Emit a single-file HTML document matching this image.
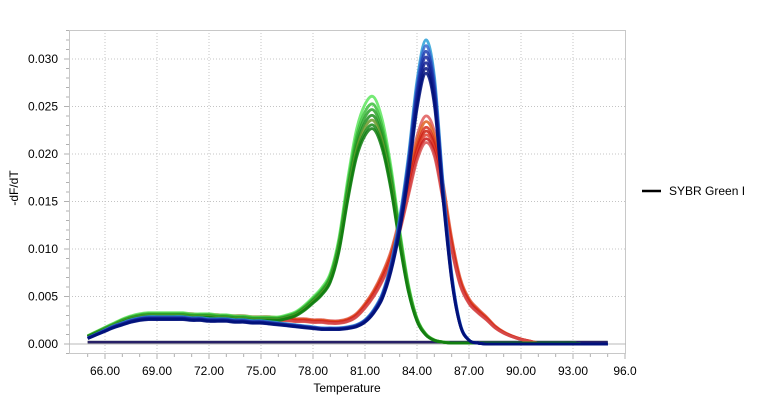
<!DOCTYPE html>
<html><head><meta charset="utf-8">
<style>
body{margin:0;background:#fff;}
svg{display:block;font-family:"Liberation Sans",sans-serif;}
</style></head>
<body>
<svg id="chart" width="760" height="419"></svg>
<script>
const temps=[65,65.5,66,66.5,67,67.5,68,68.5,69,69.5,70,70.5,71,71.5,72,72.5,73,73.5,74,74.5,75,75.5,76,76.5,77,77.5,78,78.5,79,79.5,80,80.5,81,81.5,82,82.5,83,83.5,84,84.5,85,85.5,86,86.5,87,87.5,88,88.5,89,89.5,90,90.5,91,91.5,92,92.5,93,93.5,94,94.5,95];
const greenValues=[0.0008,0.0012,0.0016,0.0020,0.0024,0.0027,0.0029,0.0030,0.0030,0.0030,0.0030,0.0030,0.0029,0.0029,0.0029,0.0028,0.0028,0.0027,0.0027,0.0026,0.0026,0.0026,0.0026,0.0028,0.0031,0.0037,0.0045,0.0054,0.0068,0.0102,0.0158,0.0205,0.0230,0.0237,0.0215,0.0170,0.0110,0.0058,0.0025,0.0010,0.0004,0.0002,0.0001,0.0001,0.0001,0.0001,0.0001,0.0001,0.0001,0.0001,0.0001,0.0001,0.0001,0.0001,0.0001,0.0001,0.0001,0.0000,0.0000,0.0000,0.0000];
const blueValues=[0.0006,0.0010,0.0014,0.0018,0.0021,0.0024,0.0026,0.0027,0.0027,0.0027,0.0027,0.0027,0.0026,0.0026,0.0025,0.0025,0.0025,0.0024,0.0024,0.0023,0.0023,0.0022,0.0021,0.0020,0.0019,0.0018,0.0017,0.0016,0.0016,0.0016,0.0017,0.0019,0.0024,0.0034,0.0050,0.0080,0.0125,0.0185,0.0260,0.0300,0.0265,0.0160,0.0070,0.0020,0.0004,0.0001,0.0000,0.0000,0.0000,0.0000,0.0000,0.0000,0.0000,0.0000,0.0000,0.0000,0.0000,0.0000,0.0000,0.0000,0.0000];
const redValues=[0.0008,0.0012,0.0016,0.0020,0.0024,0.0027,0.0029,0.0030,0.0030,0.0030,0.0030,0.0030,0.0030,0.0029,0.0029,0.0029,0.0028,0.0028,0.0028,0.0027,0.0027,0.0027,0.0026,0.0026,0.0025,0.0025,0.0024,0.0024,0.0023,0.0023,0.0025,0.0030,0.0040,0.0053,0.0070,0.0092,0.0125,0.0165,0.0205,0.0225,0.0210,0.0160,0.0105,0.0065,0.0045,0.0035,0.0027,0.0018,0.0012,0.0008,0.0005,0.0003,0.0001,0.0001,0.0000,0.0000,0.0000,0.0000,0.0000,0.0000,0.0000];
const greenPeaks=[0.0260,0.0252,0.0246,0.0240,0.0235,0.0230,0.0226];
const bluePeaks=[0.0320,0.0314,0.0308,0.0302,0.0296,0.0290,0.0285];
const redPeaks=[0.0240,0.0234,0.0228,0.0224,0.0220,0.0216,0.0212];
const xTicks=[66,69,72,75,78,81,84,87,90,93,96];
const xTickLabels=["66.00","69.00","72.00","75.00","78.00","81.00","84.00","87.00","90.00","93.00","96.0"];
const yTicks=[0,0.005,0.010,0.015,0.020,0.025,0.030];
const yTickLabels=["0.000","0.005","0.010","0.015","0.020","0.025","0.030"];

const greenColors=["#5ee65e","#3cbf3c","#2aa32a","#1e8f1e","#6a9a2a","#178a17","#0f7d0f"];
const blueColors=["#2aa0d8","#3a6ad0","#2040b0","#1a2aa0","#101e90","#0a1880","#00107a"];
const redColors=["#e05a5a","#e0621e","#d83020","#cc2010","#e04030","#c81818","#d85050"];

const L=69,T=30,R=626,B=354;
function sx(t){return 105+(t-66)*(52/3);}
function sy(v){return 344-v*(285/0.030);}
const NS="http://www.w3.org/2000/svg";
const svg=document.getElementById('chart');
function mk(tag,attrs,parent){const e=document.createElementNS(NS,tag);for(const k in attrs)e.setAttribute(k,attrs[k]);(parent||svg).appendChild(e);return e;}

const frame=mk('rect',{x:L+0.5,y:T+0.5,width:R-L-1,height:B-T-1,fill:'#fff',stroke:'#c8c8c8'});


xTicks.forEach((t,i)=>{
  if(t<96){const g=mk('line',{x1:sx(t),x2:sx(t),y1:T,y2:B,stroke:'#c4c4c4','stroke-dasharray':'1,2'});
  
  }
  const tx=mk('text',{x:sx(t),y:375,'font-size':'12','text-anchor':'middle',fill:'#000'});
  tx.textContent=xTickLabels[i];
  
  
});
for(let t=65;t<=96;t++){mk('line',{x1:sx(t),x2:sx(t),y1:B,y2:B+(t%3===0?5:3),stroke:'#b0b0b0'});}
yTicks.forEach((v,i)=>{
  if(v>0){const g=mk('line',{x1:L,x2:R,y1:sy(v),y2:sy(v),stroke:'#c4c4c4','stroke-dasharray':'1,2'});
  
  }
  const tx=mk('text',{x:58,y:sy(v)+4,'font-size':'12','text-anchor':'end',fill:'#000'});
  tx.textContent=yTickLabels[i];
  
  
});
for(let k=-1;k<=33;k++){const v=k*0.001;const y=sy(v);if(y<T||y>B)continue;mk('line',{x1:L-(k%5===0?5:3),x2:L,y1:y,y2:y,stroke:'#b0b0b0'});}
mk('line',{x1:L,x2:R,y1:sy(0),y2:sy(0),stroke:'#b8b8b8'});

function pathFor(vals){
  const pts=temps.map((t,i)=>[sx(t),sy(vals[i])]);
  let d='M'+pts[0][0].toFixed(1)+','+pts[0][1].toFixed(1);
  for(let i=0;i<pts.length-1;i++){
    const p0=pts[Math.max(0,i-1)],p1=pts[i],p2=pts[i+1],p3=pts[Math.min(pts.length-1,i+2)];
    const c1=[p1[0]+(p2[0]-p0[0])/6,p1[1]+(p2[1]-p0[1])/6],c2=[p2[0]-(p3[0]-p1[0])/6,p2[1]-(p3[1]-p1[1])/6];
    d+=`C${c1[0].toFixed(1)},${c1[1].toFixed(1)} ${c2[0].toFixed(1)},${c2[1].toFixed(1)} ${p2[0].toFixed(1)},${p2[1].toFixed(1)}`;
  }
  return d;
}
function scaled(base,peak){const m=Math.max(...base);return base.map(v=>v*peak/m);}
const gClip=mk('g',{});
const flat=temps.map(()=>0.0002);
['#2a9a2a','#5a1a5a','#1a1a6a'].forEach(c=>{
  const p=mk('path',{d:pathFor(flat),fill:'none',stroke:c,'stroke-width':2.5,opacity:0.8},gClip);
  
  
});
function group(base,peaks,colors,name){
  peaks.forEach((pk,i)=>{
    const p=mk('path',{d:pathFor(scaled(base,pk)),fill:'none',stroke:colors[i],'stroke-width':2.8,opacity:0.85},gClip);
    
    
  });
}
group(redValues,redPeaks,redColors,'red');
group(greenValues,greenPeaks,greenColors,'green');
group(blueValues,bluePeaks,blueColors,'blue');

const xt=mk('text',{x:347,y:392,'font-size':'12','text-anchor':'middle',fill:'#000'});
xt.textContent='Temperature';


const yt=mk('text',{x:18,y:188,'font-size':'12','text-anchor':'middle',fill:'#000',transform:'rotate(-90 18 188)'});
yt.textContent='-dF/dT';


const lg=mk('g',{});


mk('line',{x1:642,x2:661,y1:191,y2:191,stroke:'#000','stroke-width':2.5},lg);
const lt=mk('text',{x:669,y:195,'font-size':'12',fill:'#000'},lg);
lt.textContent='SYBR Green I';
</script>
</body></html>
